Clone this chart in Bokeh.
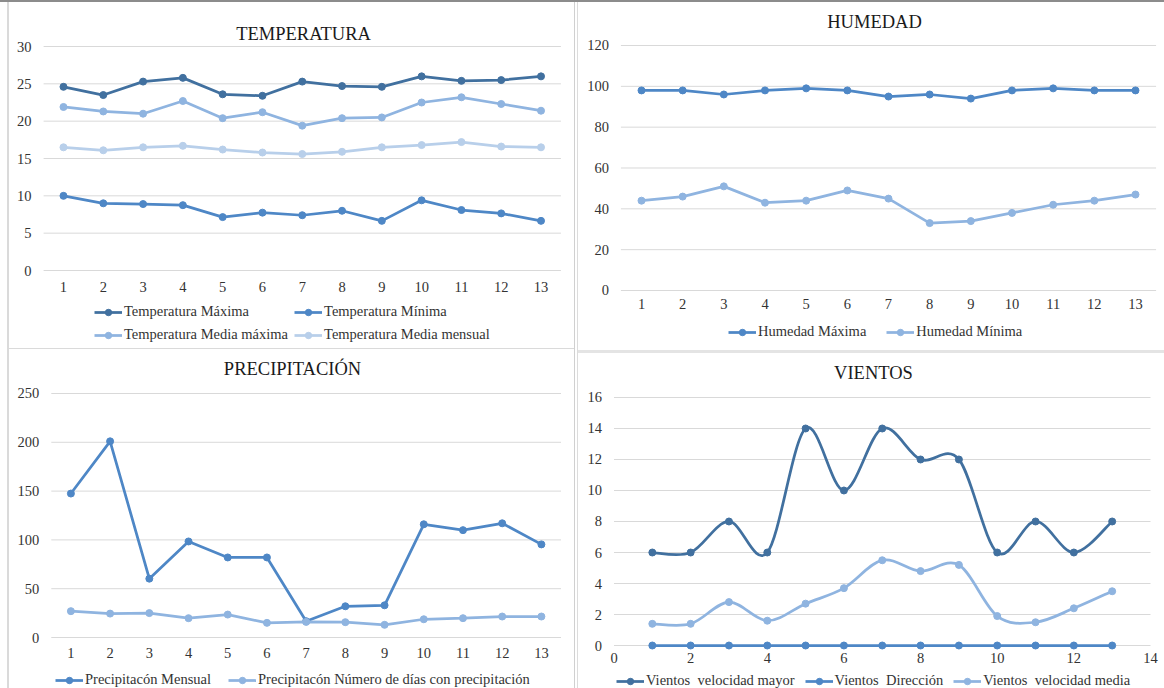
from bokeh.plotting import figure
from bokeh.layouts import row, column
from bokeh.models import Range1d, FixedTicker, Legend, LegendItem, Label, ColumnDataSource
from bokeh.embed import file_html
from bokeh.resources import INLINE

FONT = "Liberation Serif"
TXT = "#333333"
TITLE_TXT = "#1a1a1a"
GRID = "#d9d9d9"

DARK = "#41709F"
MID = "#4E87C6"
LIGHT = "#8FB4E0"
PALE = "#B8CFEA"

# ---- data -------------------------------------------------------------
periodo = [1, 2, 3, 4, 5, 6, 7, 8, 9, 10, 11, 12, 13]

temp_maxima = [24.6, 23.5, 25.3, 25.8, 23.6, 23.4, 25.3, 24.7, 24.6, 26.0, 25.4, 25.5, 26.0]
temp_minima = [10.0, 9.0, 8.9, 8.75, 7.15, 7.75, 7.4, 8.0, 6.65, 9.4, 8.1, 7.65, 6.65]
temp_media_maxima = [21.9, 21.3, 21.0, 22.7, 20.4, 21.2, 19.4, 20.4, 20.5, 22.5, 23.2, 22.3, 21.4]
temp_media_mensual = [16.5, 16.1, 16.5, 16.7, 16.2, 15.8, 15.6, 15.9, 16.5, 16.8, 17.2, 16.6, 16.5]

hum_maxima = [98, 98, 96, 98, 99, 98, 95, 96, 94, 98, 99, 98, 98]
hum_minima = [44, 46, 51, 43, 44, 49, 45, 33, 34, 38, 42, 44, 47]

prec_mensual = [147.5, 201, 60.3, 98.4, 82, 82, 16.7, 32, 33, 116, 110, 117, 95.4]
prec_dias = [27, 24.5, 25, 19.8, 23.5, 15, 16, 15.7, 13, 18.7, 19.8, 21.5, 21.5]

viento_mayor = [6, 6, 8, 6, 14, 10, 14, 12, 12, 6, 8, 6, 8]
viento_direccion = [0, 0, 0, 0, 0, 0, 0, 0, 0, 0, 0, 0, 0]
viento_media = [1.4, 1.4, 2.8, 1.6, 2.7, 3.7, 5.5, 4.8, 5.2, 1.9, 1.5, 2.4, 3.5]

temp_ticks = [0, 5, 10, 15, 20, 25, 30]
hum_ticks = [0, 20, 40, 60, 80, 100, 120]
prec_ticks = [0, 50, 100, 150, 200, 250]
viento_yticks = [0, 2, 4, 6, 8, 10, 12, 14, 16]
viento_xticks = [0, 2, 4, 6, 8, 10, 12, 14]


# ---- helpers ----------------------------------------------------------
def panel(width, height, x_range, y_range, xticks, yticks, plot_x, xstand, ystand):
    """Chart whose canvas is all frame; axes sit at fixed data positions."""
    p = figure(width=width, height=height, output_backend="svg", toolbar_location=None,
               x_range=Range1d(*x_range), y_range=Range1d(*y_range), min_border=0,
               background_fill_color=None, border_fill_color=None,
               outline_line_color=None)
    p.xgrid.visible = False
    p.ygrid.visible = False
    # horizontal gridlines across the plot area only
    lo, hi = plot_x
    p.segment(x0=[lo] * len(yticks), y0=yticks, x1=[hi] * len(yticks), y1=yticks,
              line_color=GRID, line_width=1)
    p.xaxis.ticker = FixedTicker(ticks=xticks)
    p.yaxis.ticker = FixedTicker(ticks=yticks)
    p.xaxis.fixed_location = 0
    p.yaxis.fixed_location = lo
    for ax in (p.xaxis[0], p.yaxis[0]):
        ax.axis_line_color = None
        ax.major_tick_line_color = None
        ax.minor_tick_line_color = None
        ax.major_tick_out = 0
        ax.major_tick_in = 0
        ax.major_label_text_font = FONT
        ax.major_label_text_font_size = "14.5px"
        ax.major_label_text_color = TXT
    p.xaxis.major_label_standoff = xstand
    p.yaxis.major_label_standoff = ystand
    return p


def add_title(p, text, sx, sy):
    p.add_layout(Label(x=sx, y=sy, x_units="screen", y_units="screen", text=text,
                       text_font=FONT, text_font_size="18.5px", text_color=TITLE_TXT,
                       text_align="center", text_baseline="middle"))


def series(p, xs, ys, color):
    r_line = p.line(xs, ys, line_color=color, line_width=2.75)
    r_dot = p.scatter(xs, ys, marker="circle", size=7, fill_color=color, line_color=color)
    return [r_line, r_dot]


def smooth_series(p, xs, ys, color):
    # cubic Bezier segments through each pair of consecutive points
    n = len(xs)
    seg = {k: [] for k in ("x0", "y0", "x1", "y1", "cx0", "cy0", "cx1", "cy1")}
    for i in range(n - 1):
        xp, yp = (xs[i - 1], ys[i - 1]) if i > 0 else (xs[i], ys[i])
        xn, yn = (xs[i + 2], ys[i + 2]) if i + 2 < n else (xs[i + 1], ys[i + 1])
        seg["x0"].append(xs[i]); seg["y0"].append(ys[i])
        seg["x1"].append(xs[i + 1]); seg["y1"].append(ys[i + 1])
        seg["cx0"].append(xs[i] + (xs[i + 1] - xp) / 6)
        seg["cy0"].append(ys[i] + (ys[i + 1] - yp) / 6)
        seg["cx1"].append(xs[i + 1] - (xn - xs[i]) / 6)
        seg["cy1"].append(ys[i + 1] - (yn - ys[i]) / 6)
    src = ColumnDataSource(seg)
    r_curve = p.bezier(x0="x0", y0="y0", x1="x1", y1="y1", cx0="cx0", cy0="cy0",
                       cx1="cx1", cy1="cy1", source=src, line_color=color, line_width=2.75)
    r_dot = p.scatter(xs, ys, marker="circle", size=7, fill_color=color, line_color=color)
    return [r_curve, r_dot]


def add_legend(p, entries, sx, sy, spacing, ncols=None):
    kw = dict(ncols=ncols) if ncols else {}
    lg = Legend(items=[LegendItem(label=t, renderers=r) for t, r in entries],
                location=(sx, sy), orientation="horizontal", spacing=spacing,
                glyph_width=28, glyph_height=16, label_height=16, label_standoff=2,
                padding=0, margin=0, border_line_color=None, background_fill_alpha=0,
                label_text_font=FONT, label_text_font_size="14.5px",
                label_text_color=TXT, **kw)
    p.add_layout(lg, "center")


# ---- TEMPERATURA --------------------------------------------------------
p_temp = panel(577, 348, (-0.583, 13.917), (-10.446, 36.161), periodo, temp_ticks,
               (0.5, 13.5), 11, 12)
r1 = series(p_temp, periodo, temp_maxima, DARK)
r2 = series(p_temp, periodo, temp_minima, MID)
r3 = series(p_temp, periodo, temp_media_maxima, LIGHT)
r4 = series(p_temp, periodo, temp_media_mensual, PALE)
add_title(p_temp, "TEMPERATURA", 303, 315)
add_legend(p_temp, [("Temperatura Máxima", r1), ("Temperatura Mínima", r2),
                    ("Temperatura Media máxima", r3), ("Temperatura Media mensual", r4)],
           94, 5, 6, ncols=2)

# ---- PRECIPITACIÓN ------------------------------------------------------
p_prec = panel(577, 340, (-0.7955, 13.9207), (-52.25, 296.1), periodo, prec_ticks,
               (0.5, 13.5), 10, 12)
q1 = series(p_prec, periodo, prec_mensual, MID)
q2 = series(p_prec, periodo, prec_dias, LIGHT)
add_title(p_prec, "PRECIPITACIÓN", 292, 320)
add_legend(p_prec, [("Precipitacón Mensual", q1),
                    ("Precipitacón Número de días con precipitación", q2)], 55, 0, 17)

# ---- HUMEDAD ------------------------------------------------------------
p_hum = panel(587, 350, (-0.5547, 13.7045), (-29.39, 142.04), periodo, hum_ticks,
              (0.5, 13.5), 9, 12)
h1 = series(p_hum, periodo, hum_maxima, MID)
h2 = series(p_hum, periodo, hum_minima, LIGHT)
add_title(p_hum, "HUMEDAD", 297, 329)
add_legend(p_hum, [("Humedad Máxima", h1), ("Humedad Mínima", h2)], 151, 10, 20)

# ---- VIENTOS ------------------------------------------------------------
p_vie = panel(587, 338, (-0.9525, 14.3653), (-2.774, 19.032), viento_xticks, viento_yticks,
              (0, 14), 7, 12)
v1 = smooth_series(p_vie, periodo, viento_mayor, DARK)
v2 = series(p_vie, periodo, viento_direccion, MID)
v3 = smooth_series(p_vie, periodo, viento_media, LIGHT)
add_title(p_vie, "VIENTOS", 296, 316)
add_legend(p_vie, [("Vientos  velocidad mayor", v1), ("Vientos  Dirección", v2),
                   ("Vientos  velocidad media", v3)], 39, -1, 10)

# ---- sheet frame lines behind the four charts ---------------------------
def bar(color, x, y, w, h):
    return f"linear-gradient({color},{color}) {x}px {y}px / {w}px {h}px no-repeat"

frame_lines = ", ".join([
    bar("#8c8c8c", 0, 0, 1164, 2),
    bar("#dadada", 7, 0, 2, 688),
    bar("#d0d0d0", 574, 0, 1, 688),
    bar("#dcdcdc", 577, 0, 1, 688),
    bar("#dadada", 7, 348, 567, 1),
    bar("#e4e4e4", 577, 350, 587, 3),
])

layout = row(column(p_temp, p_prec), column(p_hum, p_vie),
             styles={"background": frame_lines})

open("out.html", "w").write(file_html(layout, INLINE))
